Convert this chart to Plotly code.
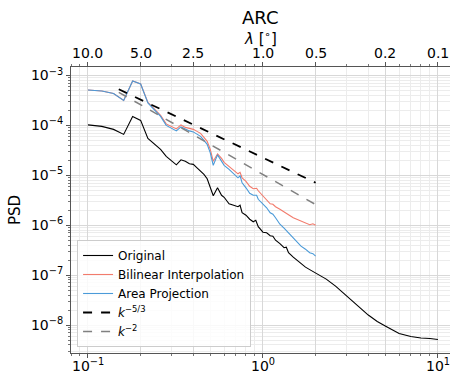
import numpy as np
import plotly.graph_objects as go

# ---- data ----
k_original = [0.10, 0.12, 0.14, 0.16, 0.18, 0.20, 0.22, 0.24, 0.26, 0.28, 0.30, 0.32, 0.34, 0.36,
              0.38, 0.40, 0.42, 0.44, 0.46, 0.48, 0.50, 0.52, 0.55, 0.58, 0.60, 0.64, 0.68, 0.72,
              0.74, 0.76, 0.80, 0.84, 0.88, 0.91, 0.94, 1.00, 1.05, 1.10, 1.14, 1.18, 1.25, 1.32,
              1.36, 1.40, 1.49, 1.56, 1.60, 1.65, 1.75, 1.85, 2.0, 2.3, 2.6, 3.0, 3.5, 4.0, 4.5,
              5.0, 5.5, 6.0, 7.0, 8.0, 9.0, 10.0]
original_log10 = [-3.99, -4.02, -4.08, -4.18, -3.82, -3.90, -4.26, -4.38, -4.48, -4.62, -4.70, -4.79,
                  -4.69, -4.72, -4.77, -4.78, -4.85, -4.91, -4.98, -5.07, -5.25, -5.41, -5.25, -5.40,
                  -5.44, -5.57, -5.60, -5.63, -5.60, -5.75, -5.80, -5.88, -5.93, -5.90, -6.03, -6.14,
                  -6.15, -6.21, -6.22, -6.30, -6.37, -6.45, -6.44, -6.55, -6.64, -6.70, -6.74, -6.78,
                  -6.84, -6.89, -6.96, -7.08, -7.22, -7.42, -7.62, -7.80, -7.93, -8.02, -8.10, -8.17,
                  -8.23, -8.26, -8.27, -8.29]

k_regrid = [0.10, 0.12, 0.14, 0.16, 0.18, 0.20, 0.22, 0.24, 0.26, 0.28, 0.30, 0.32, 0.34, 0.36,
            0.38, 0.40, 0.42, 0.44, 0.46, 0.48, 0.50, 0.52, 0.55, 0.58, 0.60, 0.64, 0.68, 0.72,
            0.74, 0.76, 0.80, 0.84, 0.88, 0.92, 0.94, 1.00, 1.05, 1.10, 1.14, 1.18, 1.25, 1.32,
            1.40, 1.49, 1.56, 1.65, 1.75, 1.85, 1.93, 2.0]
bilinear_log10 = [-3.29, -3.31, -3.36, -3.50, -3.11, -3.17, -3.54, -3.68, -3.80, -3.97, -4.03, -4.07,
                  -3.99, -4.04, -4.06, -4.08, -4.12, -4.16, -4.24, -4.32, -4.48, -4.72, -4.57, -4.66,
                  -4.74, -4.82, -4.90, -4.97, -4.94, -5.05, -5.12, -5.22, -5.27, -5.26, -5.31, -5.42,
                  -5.50, -5.57, -5.58, -5.63, -5.68, -5.74, -5.79, -5.85, -5.88, -5.92, -5.95, -5.99,
                  -5.97, -6.00]
area_log10 = [-3.29, -3.31, -3.36, -3.50, -3.11, -3.17, -3.55, -3.70, -3.82, -4.00, -4.06, -4.11,
              -4.03, -4.08, -4.11, -4.13, -4.17, -4.22, -4.30, -4.38, -4.55, -4.80, -4.59, -4.72,
              -4.80, -4.88, -4.97, -5.05, -5.01, -5.15, -5.25, -5.36, -5.40, -5.40, -5.48, -5.58,
              -5.65, -5.75, -5.78, -5.85, -5.98, -6.06, -6.15, -6.25, -6.32, -6.42, -6.48, -6.55,
              -6.57, -6.62]

k_ref = [0.15, 2.0]
ref_53 = [5.3e-4, 7.1e-6]
ref_2 = [4.6e-4, 2.6e-6]

x_tickvals = [0.1, 1, 10]
x_ticktext = ["10<sup>−1</sup>", "10<sup>0</sup>", "10<sup>1</sup>"]
top_tickvals = [0.1, 0.2, 0.4, 1, 2, 5, 10]
top_ticktext = ["10.0", "5.0", "2.5", "1.0", "0.5", "0.2", "0.1"]
y_tickvals = [1e-8, 1e-7, 1e-6, 1e-5, 1e-4, 1e-3]
y_ticktext = ["10<sup>−8</sup>", "10<sup>−7</sup>", "10<sup>−6</sup>", "10<sup>−5</sup>",
              "10<sup>−4</sup>", "10<sup>−3</sup>"]
x_decades = [-2, -1, 0, 1]
y_decades = [-9, -8, -7, -6, -5, -4, -3]
minor_mults = [2, 3, 4, 5, 6, 7, 8, 9]
x_minor = [m * 10.0 ** d for d in x_decades for m in minor_mults]
y_minor = [m * 10.0 ** d for d in y_decades for m in minor_mults]

FONT = "DejaVu Sans"
W, H = 452, 376
M_L, M_R, M_T, M_B = 71, 2, 67, 23
plot_h = H - M_T - M_B

fig = go.Figure()
fig.add_trace(go.Scatter(x=k_original, y=10 ** np.array(original_log10), mode="lines",
                         name="Original", line=dict(color="black", width=1.1)))
fig.add_trace(go.Scatter(x=k_regrid, y=10 ** np.array(bilinear_log10), mode="lines",
                         name="Bilinear Interpolation", line=dict(color="#f27b6c", width=1.1)))
fig.add_trace(go.Scatter(x=k_regrid, y=10 ** np.array(area_log10), mode="lines",
                         name="Area Projection", line=dict(color="#4a9ad8", width=1.1)))
fig.add_trace(go.Scatter(x=k_ref, y=ref_53, mode="lines", name="<i>k</i><sup>−5/3</sup>",
                         line=dict(color="black", width=1.8, dash="dash")))
fig.add_trace(go.Scatter(x=k_ref, y=ref_2, mode="lines", name="<i>k</i><sup>−2</sup>",
                         line=dict(color="#808080", width=1.5, dash="dash")))
fig.add_trace(go.Scatter(x=[0.1, 10], y=[None, None], xaxis="x2", showlegend=False,
                         hoverinfo="skip", mode="lines"))

grid_major = "#d8d8d8"
grid_minor = "#ececec"


def axis_common(minor_vals):
    return dict(
        type="log", showline=True, linecolor="#555555", linewidth=1, mirror=False,
        ticks="outside", ticklen=4, tickcolor="#555555", showgrid=True, gridcolor=grid_major,
        gridwidth=1, zeroline=False, automargin=False, ticklabeloverflow="allow",
        tickfont=dict(family=FONT, size=14, color="black"),
        minor=dict(tickmode="array", tickvals=minor_vals, ticks="outside", ticklen=2,
                   tickcolor="#777777", showgrid=True, gridcolor=grid_minor, gridwidth=1),
    )


def py(pix):
    """pixel row -> paper y"""
    return 1 + (M_T - pix) / plot_h


annotations = [
    dict(text="ARC", x=0.5, y=py(17), xref="paper", yref="paper", showarrow=False,
         yanchor="middle", font=dict(family=FONT, size=18)),
    dict(text="<i>λ</i> [<sup>∘</sup>]", x=0.5, y=py(38), xref="paper", yref="paper",
         showarrow=False, yanchor="middle", font=dict(family=FONT, size=15)),
]
# top (wavelength) tick labels, placed at the axis tick values
for v, t in zip(top_tickvals, top_ticktext):
    annotations.append(dict(text=t, x=np.log10(v), y=py(53), xref="x", yref="paper",
                            showarrow=False, yanchor="middle", xanchor="center",
                            font=dict(family=FONT, size=14, color="black")))
# bottom (wavenumber) tick labels
for v, t in zip(x_tickvals, x_ticktext):
    annotations.append(dict(text=t, x=np.log10(v), y=py(365), xref="x", yref="paper",
                            showarrow=False, yanchor="middle", xanchor="center",
                            font=dict(family=FONT, size=14, color="black")))

fig.update_layout(
    width=W, height=H,
    margin=dict(l=M_L, r=M_R, t=M_T, b=M_B, autoexpand=False),
    paper_bgcolor="white", plot_bgcolor="white",
    font=dict(family=FONT, size=13, color="black"),
    xaxis=dict(**axis_common(x_minor), range=[-1.097, 1.069], tickmode="array",
               tickvals=x_tickvals, showticklabels=False),
    xaxis2=dict(**axis_common(x_minor), range=[-1.097, 1.069], overlaying="x", side="top",
                anchor="y", tickmode="array", tickvals=top_tickvals, showticklabels=False),
    yaxis=dict(**axis_common(y_minor), range=[-8.56, -2.83], tickmode="array",
               tickvals=y_tickvals, ticktext=y_ticktext,
               title=dict(text="PSD", font=dict(family=FONT, size=15), standoff=6)),
    showlegend=True,
    legend=dict(x=0.016, y=0.021, xanchor="left", yanchor="bottom",
                bgcolor="rgba(255,255,255,0.85)", bordercolor="#cccccc", borderwidth=1,
                font=dict(family=FONT, size=12), tracegroupgap=0, itemwidth=30),
    annotations=annotations,
)

fig.write_html("out.html", config={"displayModeBar": False},
               post_script="document.body.style.margin='0';")
